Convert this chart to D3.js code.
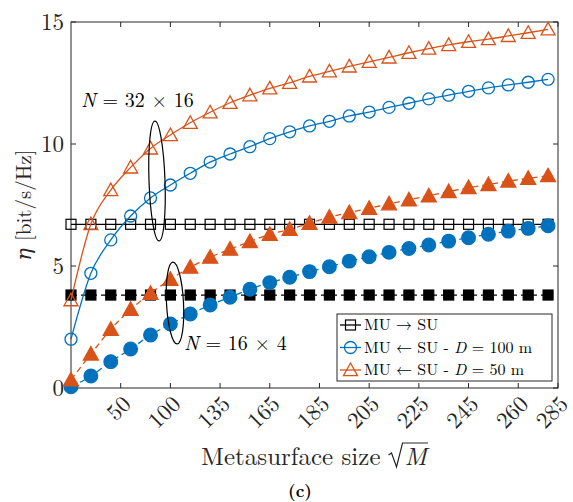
<!DOCTYPE html>
<html><head><meta charset="utf-8">
<script src="https://cdn.jsdelivr.net/npm/d3@7"></script>
<style>body{margin:0;background:#fff;}</style>
</head>
<body><svg id="c" width="573" height="502" font-family="'Latin Modern Roman','DejaVu Serif',serif"></svg>
<script>
// ---- data ----
const idx = d3.range(25);
const xTickPos = [2.5, 5, 7.5, 10, 12.5, 15, 17.5, 20, 22.5, 24.5];
const xTickLabels = ["50","100","135","165","185","205","225","245","260","285"];
const yTicks = [0, 5, 10, 15];
const suOpen = idx.map(() => 6.71);          // MU -> SU, N = 32x16
const suFilled = idx.map(() => 3.81);        // MU -> SU, N = 16x4
const circOpen = [2.0,4.70,6.07,7.05,7.79,8.32,8.80,9.26,9.59,9.89,10.22,10.50,10.74,10.93,11.15,11.31,11.50,11.67,11.85,12.0,12.16,12.30,12.42,12.53,12.65];
const circFilled = [0.05,0.49,1.08,1.60,2.17,2.62,3.03,3.40,3.72,4.05,4.32,4.54,4.77,4.97,5.20,5.38,5.56,5.72,5.86,6.02,6.16,6.30,6.43,6.54,6.65];
const triOpen = [3.6,6.72,8.11,9.04,9.82,10.37,10.87,11.30,11.69,12.0,12.28,12.51,12.77,12.98,13.18,13.37,13.55,13.74,13.91,14.06,14.19,14.30,14.43,14.56,14.70];
const triFilled = [0.33,1.39,2.40,3.22,3.88,4.45,4.95,5.36,5.69,6.0,6.30,6.50,6.75,7.0,7.19,7.36,7.55,7.71,7.88,8.05,8.21,8.34,8.48,8.59,8.70];
const legendLabels = ["MU → SU","MU ← SU - D = 100 m","MU ← SU - D = 50 m"];

const BLUE = "#0072BD", ORANGE = "#D95319", BLACK = "#000000", AX = "#262626";
const svg = d3.select("#c");
const L = 71, R = 558, T = 22, B = 388;
const x = d3.scaleLinear().domain([0, 24.5]).range([L, R]);
const y = d3.scaleLinear().domain([0, 15]).range([B, T]);

// axes box
const ax = svg.append("g");
ax.append("rect").attr("x", L).attr("y", T).attr("width", R-L).attr("height", B-T)
  .attr("fill", "none").attr("stroke", AX).attr("stroke-width", 1);
xTickPos.forEach(t => {
  ax.append("line").attr("x1", x(t)).attr("x2", x(t)).attr("y1", B).attr("y2", B-5).attr("stroke", AX);
  ax.append("line").attr("x1", x(t)).attr("x2", x(t)).attr("y1", T).attr("y2", T+5).attr("stroke", AX);
});
yTicks.forEach(t => {
  ax.append("line").attr("x1", L).attr("x2", L+5).attr("y1", y(t)).attr("y2", y(t)).attr("stroke", AX);
  ax.append("line").attr("x1", R).attr("x2", R-5).attr("y1", y(t)).attr("y2", y(t)).attr("stroke", AX);
});
yTicks.forEach(t => {
  ax.append("text").attr("x", L-7).attr("y", y(t)).attr("dy", "0.33em").attr("fill", AX)
    .attr("text-anchor", "end").attr("font-size", 23).text(t);
});
xTickPos.forEach((t, i) => {
  ax.append("text").attr("transform", `translate(${x(t)+6},${B+12}) rotate(-45)`).attr("fill", AX)
    .attr("text-anchor", "end").attr("dy", "0.33em").attr("font-size", 23).text(xTickLabels[i]);
});

// x label: "Metasurface size √M"
const xlG = ax.append("g");
const xlT = xlG.append("text").attr("y", 465).attr("font-size", 25).attr("fill", AX).text("Metasurface size");
const w1 = xlT.node().getComputedTextLength();
const xlM = xlG.append("text").attr("y", 465).attr("font-size", 25).attr("font-style", "italic").attr("fill", AX).text("M");
const wM = xlM.node().getComputedTextLength();
const gap = 8, radW = 16;
const x0 = 314 - (w1 + gap + radW + wM) / 2;
xlT.attr("x", x0);
const rx0 = x0 + w1 + gap;
xlM.attr("x", rx0 + radW);
xlG.append("path")
  .attr("d", `M${rx0},${455}L${rx0+3},${453}L${rx0+8},${467}L${rx0+14},${443}H${rx0+radW+wM+1}`)
  .attr("fill", "none").attr("stroke", AX).attr("stroke-width", 1.2).attr("stroke-linejoin", "miter");

const yl = ax.append("text").attr("transform", `translate(31,${(T+B)/2}) rotate(-90)`).attr("text-anchor", "middle").attr("font-size", 21).attr("fill", AX);
yl.append("tspan").attr("font-style", "italic").text("η");
yl.append("tspan").text(" [bit/s/Hz]");
svg.append("text").attr("x", 300).attr("y", 497).attr("text-anchor", "middle")
  .attr("font-size", 17).attr("font-weight", "bold").text("(c)");

// series
const line = d3.line().x((d, i) => x(i)).y(d => y(d)).curve(d3.curveMonotoneX);
const g = svg.append("g");
function drawSeries(vals, color, dashed, marker, filled) {
  g.append("path").datum(vals).attr("d", line).attr("fill", "none").attr("stroke", color)
    .attr("stroke-width", 1.3).attr("stroke-dasharray", dashed ? "6,4" : null);
  const m = g.append("g");
  vals.forEach((v, i) => drawMarker(m, x(i), y(v), marker, color, filled));
}
function drawMarker(sel, cx, cy, marker, color, filled) {
  const fill = filled ? color : "none";
  if (marker === "s") {
    const s = 10;
    sel.append("rect").attr("x", cx - s/2).attr("y", cy - s/2).attr("width", s).attr("height", s)
      .attr("fill", fill).attr("stroke", color).attr("stroke-width", 1.2);
  } else if (marker === "o") {
    sel.append("circle").attr("cx", cx).attr("cy", cy).attr("r", filled ? 6.8 : 6)
      .attr("fill", fill).attr("stroke", color).attr("stroke-width", 1.3);
  } else {
    const h = filled ? 7.5 : 7;
    sel.append("path").attr("d", `M${cx},${cy-h}L${cx+h},${cy+h*0.8}L${cx-h},${cy+h*0.8}Z`)
      .attr("fill", fill).attr("stroke", color).attr("stroke-width", 1.3);
  }
}
drawSeries(suOpen, BLACK, false, "s", false);
drawSeries(suFilled, BLACK, true, "s", true);
drawSeries(circOpen, BLUE, false, "o", false);
drawSeries(circFilled, BLUE, true, "o", true);
drawSeries(triOpen, ORANGE, false, "t", false);
drawSeries(triFilled, ORANGE, true, "t", true);

// annotations
svg.append("ellipse").attr("cx", 157).attr("cy", 181).attr("rx", 8).attr("ry", 60)
  .attr("transform", "rotate(-2,157,181)").attr("fill", "none").attr("stroke", "#000").attr("stroke-width", 1.2);
svg.append("ellipse").attr("cx", 175).attr("cy", 303).attr("rx", 8.5).attr("ry", 41)
  .attr("transform", "rotate(-3,175,303)").attr("fill", "none").attr("stroke", "#000").attr("stroke-width", 1.2);
const a1 = svg.append("text").attr("x", 81).attr("y", 107).attr("font-size", 20);
a1.append("tspan").attr("font-style", "italic").text("N");
a1.append("tspan").text(" = 32 × 16");
const a2 = svg.append("text").attr("x", 184).attr("y", 350).attr("font-size", 20);
a2.append("tspan").attr("font-style", "italic").text("N");
a2.append("tspan").text(" = 16 × 4");

// legend
const lg = svg.append("g");
lg.append("rect").attr("x", 337).attr("y", 314).attr("width", 215).attr("height", 67)
  .attr("fill", "#fff").attr("stroke", AX).attr("stroke-width", 1);
const lc = [BLACK, BLUE, ORANGE], lm = ["s", "o", "t"], ly = [325, 347.5, 370];
legendLabels.forEach((lab, i) => {
  lg.append("line").attr("x1", 340).attr("x2", 361).attr("y1", ly[i]).attr("y2", ly[i]).attr("stroke", lc[i]).attr("stroke-width", 1.3);
  drawMarker(lg, 350.5, ly[i], lm[i], lc[i], false);
  const t = lg.append("text").attr("x", 364).attr("y", ly[i]).attr("dy", "0.33em").attr("font-size", 16);
  if (i === 0) t.text(lab);
  else {
    t.append("tspan").text("MU ← SU - ");
    t.append("tspan").attr("font-style", "italic").text("D");
    t.append("tspan").text(i === 1 ? " = 100 m" : " = 50 m");
  }
});
</script></body></html>
